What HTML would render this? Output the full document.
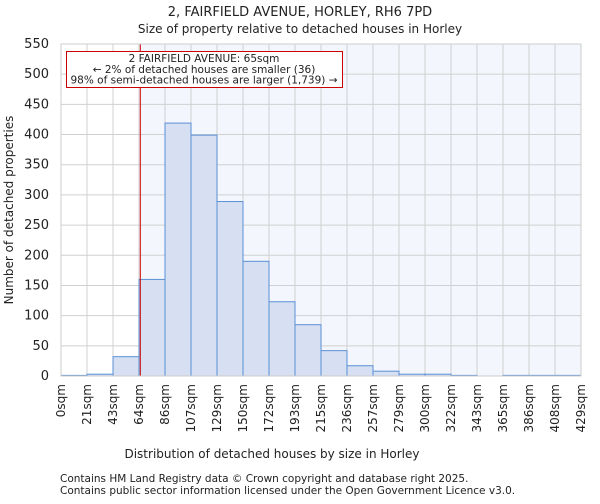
<!DOCTYPE html>
<html><head><meta charset="utf-8"><style>
body{margin:0;background:#fff;font-family:"DejaVu Sans","Liberation Sans",sans-serif;}
svg text{font-family:"DejaVu Sans","Liberation Sans",sans-serif;fill:#222;}
</style></head><body>
<svg width="600" height="500">
<text x="300" y="16" text-anchor="middle" font-size="13">2, FAIRFIELD AVENUE, HORLEY, RH6 7PD</text>
<text x="300" y="33" text-anchor="middle" font-size="12">Size of property relative to detached houses in Horley</text>
<g id="plot"></g>
<text x="272" y="458" text-anchor="middle" font-size="12">Distribution of detached houses by size in Horley</text>
<text transform="translate(13,210) rotate(-90)" text-anchor="middle" font-size="12">Number of detached properties</text>
<text x="60" y="482" font-size="10.5" fill="#444">Contains HM Land Registry data © Crown copyright and database right 2025.</text>
<text x="60" y="494" font-size="10.5" fill="#444">Contains public sector information licensed under the Open Government Licence v3.0.</text>
</svg>
<script>
const binLabels=["0sqm","21sqm","43sqm","64sqm","86sqm","107sqm","129sqm","150sqm","172sqm","193sqm","215sqm","236sqm","257sqm","279sqm","300sqm","322sqm","343sqm","365sqm","386sqm","408sqm","429sqm"];
const counts=[1,3,32,160,419,399,289,190,123,85,42,17,8,3,3,1,0,1,1,1];
const yTicks=[0,50,100,150,200,250,300,350,400,450,500,550];
const markerBin=3.05;
const NS="http://www.w3.org/2000/svg";
const g=document.getElementById('plot');
const X0=61,X1=581,Y0=376,Y1=44,YMAX=550;
const bw=(X1-X0)/counts.length;
const xs=i=>X0+i*bw;
const ys=v=>Y0-(v/YMAX)*(Y0-Y1);
function mk(t,a){const e=document.createElementNS(NS,t);for(const k in a)e.setAttribute(k,a[k]);g.appendChild(e);return e;}
const mx=xs(markerBin);
let e=mk('rect',{x:mx,y:Y1,width:X1-mx,height:Y0-Y1,fill:'#f3f6fd'});


yTicks.forEach(t=>{let l=mk('line',{x1:X0,x2:X1,y1:ys(t),y2:ys(t),stroke:'#d0d0d0'});


let tx=mk('text',{x:X0-12,y:ys(t)+4,'text-anchor':'end','font-size':'13'});tx.textContent=t;

});
binLabels.forEach((b,i)=>{let l=mk('line',{x1:xs(i),x2:xs(i),y1:Y1,y2:Y0,stroke:'#d0d0d0'});


let tx=mk('text',{transform:`translate(${xs(i)+4},${Y0+8}) rotate(-90)`,'text-anchor':'end','font-size':'12'});tx.textContent=b;

});
counts.forEach((c,i)=>{if(c<=0)return;let r=mk('rect',{x:xs(i),y:ys(c),width:bw,height:Y0-ys(c),fill:'#d6e0f2',stroke:'#5b8fd6','stroke-width':1});

});
let ml=mk('line',{x1:mx,x2:mx,y1:Y1,y2:Y0,stroke:'#cc0000','stroke-width':1});


let bx=mk('rect',{x:66.5,y:51.5,width:276,height:36,fill:'#fff',stroke:'#cc0000'});


["2 FAIRFIELD AVENUE: 65sqm","← 2% of detached houses are smaller (36)","98% of semi-detached houses are larger (1,739) →"].forEach((s,i)=>{let t=mk('text',{x:204,y:62+i*10.8,'text-anchor':'middle','font-size':'10.5'});t.textContent=s;

});
let ax=mk('rect',{x:X0,y:Y1,width:X1-X0,height:Y0-Y1,fill:'none',stroke:'#ccc'});


</script>
</body></html>
